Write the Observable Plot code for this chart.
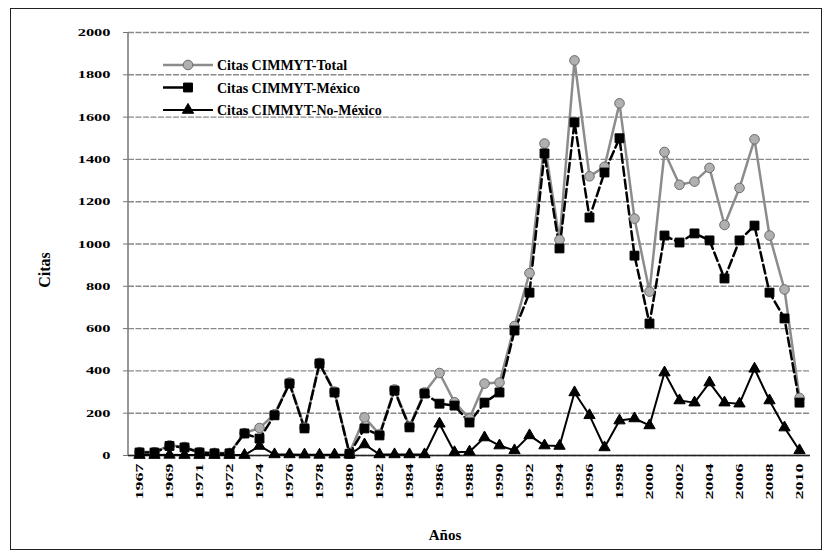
<!DOCTYPE html>
<html><head><meta charset="utf-8">
<script src="https://cdn.jsdelivr.net/npm/d3@7"></script>
<script src="https://cdn.jsdelivr.net/npm/@observablehq/plot@0.6"></script>
<style>body{margin:0;background:#fff} svg text{font-family:"Liberation Serif","Times New Roman",serif !important;}</style>
</head><body><div id="chart"></div>
<script>
const years = ["1967","1968","1969","1970","1971","1971","1972","1973","1974","1975","1976","1977","1978","1979","1980","1981","1982","1983","1984","1985","1986","1987","1988","1989","1990","1991","1992","1993","1994","1995","1996","1997","1998","1999","2000","2001","2002","2003","2004","2005","2006","2007","2008","2009","2010"];
const total = [16,16,48,40,16,12,12,106,130,195,345,132,438,302,12,180,100,312,138,298,390,252,175,340,345,612,862,1475,1020,1868,1320,1365,1665,1120,775,1435,1280,1295,1360,1090,1265,1495,1040,785,272];
const mexico = [14,14,45,38,14,10,10,104,80,190,340,128,435,298,8,128,95,307,133,293,245,236,156,250,298,591,770,1428,979,1575,1125,1338,1500,945,624,1040,1007,1050,1017,837,1017,1087,770,648,250];
const noMexico = [2,2,3,2,2,2,2,2,45,5,5,4,3,4,4,52,5,5,5,5,150,15,18,85,47,24,95,47,45,298,190,38,165,175,142,392,260,250,345,250,245,410,260,132,24];
const yTicks = [0,200,400,600,800,1000,1200,1400,1600,1800,2000];
const seriesNames = ["Citas CIMMYT-Total","Citas CIMMYT-México","Citas CIMMYT-No-México"];
const xTitle = "Años";
const yTitle = "Citas";

const font = '"Liberation Serif","Times New Roman",serif';
const idx = d3.range(years.length);
const rows = vals => idx.map(i => ({i, v: vals[i]}));
const styles = [
  {stroke:"#8c8c8c", width:2.5, dash:null, symbol:"circle", r:4.8, fill:"#b0b0b0", mstroke:"#6a6a6a"},
  {stroke:"#000", width:2.5, dash:"9,4", symbol:"square", r:5.0, fill:"#000", mstroke:"#000"},
  {stroke:"#000", width:2, dash:null, symbol:"triangle", r:4.2, fill:"#000", mstroke:"#000"}
];
const data = [total, mexico, noMexico];

const marks = [
  Plot.gridY(yTicks, {stroke:"#8a8a8a", strokeOpacity:1, strokeWidth:1.4, strokeDasharray:"6,1.5"}),
  Plot.axisY(yTicks, {tickSize:5, tickPadding:13, label:null, fontSize:11, stroke:"#777", tickFormat: d => String(d)}),
  Plot.axisX(idx.filter(i => i % 2 === 0), {tickRotate:-90, tickFormat: i => years[i], tickSize:0, tickPadding:8, label:null, fontSize:11}),
  Plot.ruleY([0], {stroke:"#222", strokeWidth:1.5})
];
data.forEach((vals, k) => {
  const s = styles[k];
  marks.push(Plot.line(rows(vals), {x:"i", y:"v", stroke:s.stroke, strokeWidth:s.width, strokeDasharray:s.dash}));
});
data.forEach((vals, k) => {
  const s = styles[k];
  marks.push(Plot.dot(rows(vals), {x:"i", y:"v", symbol:s.symbol, r:s.r, fill:s.fill, stroke:s.mstroke, strokeWidth:1}));
});

const chart = Plot.plot({
  width:832, height:557, marginLeft:128, marginRight:22, marginTop:32, marginBottom:102,
  style:{fontFamily:font, fontWeight:"bold", fontSize:"12px", background:"#fff", color:"#000", overflow:"visible"},
  x:{type:"point", domain:idx, padding:0.5, label:null, axis:null},
  y:{domain:[0,2000], label:null, axis:null},
  marks
});
document.getElementById("chart").appendChild(chart);

const svg = d3.select(chart);
svg.selectAll("g[aria-label='x-axis tick label'] text").attr("textLength", 36).attr("lengthAdjust", "spacingAndGlyphs");
svg.selectAll("g[aria-label='y-axis tick label'] text").each(function(){
  const t = d3.select(this); const n = t.text().length;
  t.attr("textLength", n * 8.2).attr("lengthAdjust", "spacingAndGlyphs");
});
svg.append("line").attr("x1",128).attr("x2",128).attr("y1",32).attr("y2",455).attr("stroke","#777").attr("stroke-width",1.5);
svg.append("rect").attr("x",10.5).attr("y",8.5).attr("width",811).attr("height",541).attr("fill","none").attr("stroke","#222").attr("stroke-width",1);
svg.append("text").attr("x",445).attr("y",540).attr("text-anchor","middle").style("font-size","15px").style("font-weight","bold").text(xTitle);
svg.append("text").attr("transform","translate(50,270) rotate(-90)").attr("text-anchor","middle").style("font-size","16px").style("font-weight","bold").text(yTitle);
const leg = svg.append("g");
seriesNames.forEach((name, k) => {
  const s = styles[k];
  const y = 65 + 22.5 * k;
  leg.append("line").attr("x1",163).attr("x2",213).attr("y1",y).attr("y2",y)
    .attr("stroke",s.stroke).attr("stroke-width",s.width).attr("stroke-dasharray", k===1 ? "22,5,3" : null);
  const sym = d3.symbol().type(s.symbol==="circle"?d3.symbolCircle:s.symbol==="square"?d3.symbolSquare:d3.symbolTriangle).size(Math.PI*s.r*s.r);
  leg.append("path").attr("d", sym()).attr("transform",`translate(188,${y})`).attr("fill",s.fill).attr("stroke",s.mstroke);
  leg.append("text").attr("x",217).attr("y",y+5).attr("text-anchor","start").style("font-size","14px").style("font-weight","bold").text(name);
});
</script></body></html>
